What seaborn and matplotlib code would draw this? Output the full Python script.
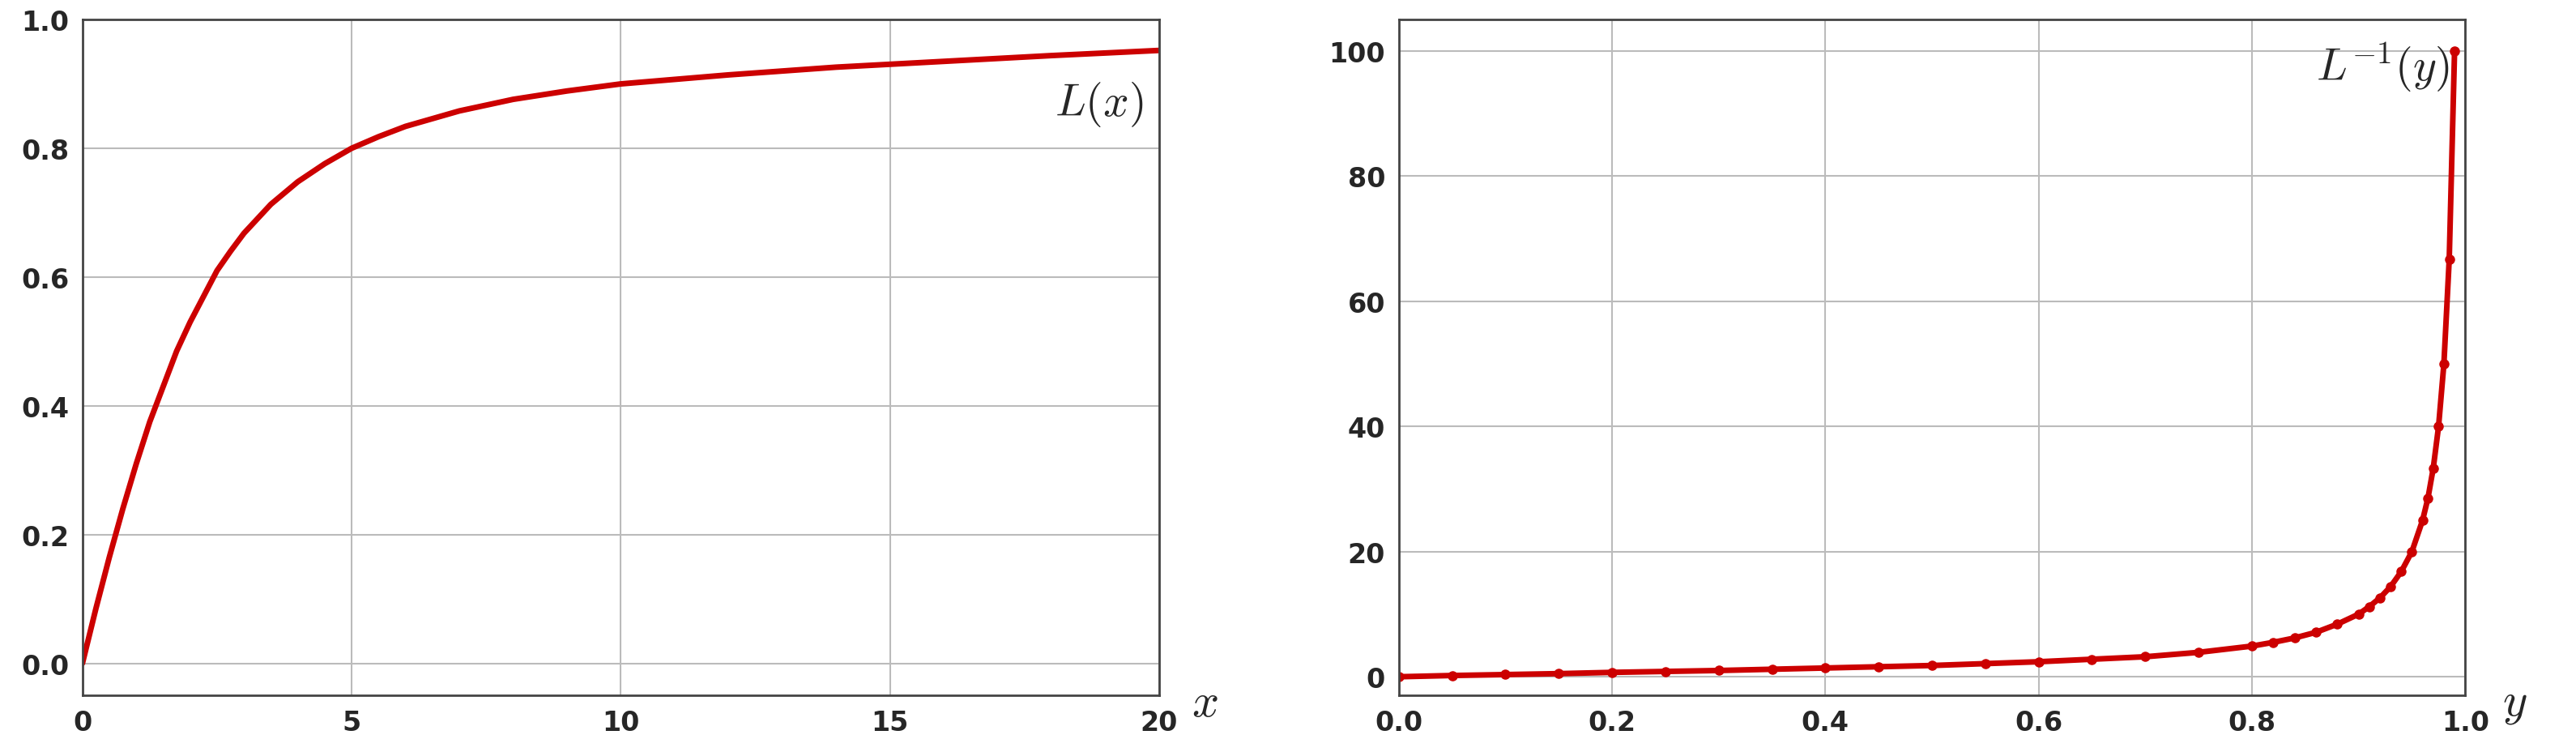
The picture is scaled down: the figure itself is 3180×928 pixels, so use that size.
import matplotlib
matplotlib.use("Agg")
import matplotlib.pyplot as plt
import seaborn as sns

sns.set_theme(style="whitegrid")
plt.rcParams['font.family'] = ['DejaVu Sans']
plt.rcParams['mathtext.fontset'] = 'cm'

# Left curve L(x)
lx = [0, 0.25, 0.5, 0.75, 1, 1.25, 1.5, 1.75, 2, 2.25, 2.5, 2.75, 3, 3.5, 4, 4.5, 5, 5.5, 6, 7, 8, 9, 10, 12, 14, 16, 18, 20]
ly = [0, 0.085, 0.165, 0.24, 0.31, 0.375, 0.43, 0.485, 0.53, 0.57, 0.61, 0.64, 0.668, 0.713, 0.748, 0.776, 0.80, 0.818, 0.834, 0.858, 0.876, 0.889, 0.90, 0.914, 0.926, 0.935, 0.944, 0.952]
# Right curve L^-1(y)
ry = [0.0, 0.05, 0.1, 0.15, 0.2, 0.25, 0.3, 0.35, 0.4, 0.45, 0.5, 0.55, 0.6, 0.65, 0.7, 0.75, 0.8, 0.82, 0.84, 0.86, 0.88, 0.9, 0.91, 0.92, 0.93, 0.94, 0.95, 0.96, 0.965, 0.97, 0.975, 0.98, 0.985, 0.99]
rx = [0.0, 0.2, 0.35, 0.5, 0.7, 0.85, 1.0, 1.2, 1.4, 1.6, 1.8, 2.1, 2.4, 2.8, 3.2, 3.9, 4.9, 5.5, 6.2, 7.1, 8.4, 10.0, 11.2, 12.6, 14.4, 16.8, 20.0, 25.0, 28.5, 33.3, 40.0, 50.0, 66.7, 100.0]

red = "#cc0000"
fig = plt.figure(figsize=(31.8, 9.29), dpi=100)
ax1 = fig.add_axes([0.032, 0.075, 0.418, 0.898])
ax2 = fig.add_axes([0.543, 0.075, 0.414, 0.898])

sns.lineplot(x=lx, y=ly, ax=ax1, color=red, linewidth=5)
sns.lineplot(x=ry, y=rx, ax=ax2, color=red, linewidth=5, marker="o", markersize=9, markeredgewidth=0, sort=False)

ax1.set_xlim(0, 20); ax1.set_ylim(-0.05, 1.0)
ax1.set_xticks([0, 5, 10, 15, 20]); ax1.set_yticks([0, 0.2, 0.4, 0.6, 0.8, 1.0])
ax1.set_yticklabels(["0.0", "0.2", "0.4", "0.6", "0.8", "1.0"])
ax2.set_xlim(0, 1.0); ax2.set_ylim(-3, 105)
ax2.set_xticks([0, 0.2, 0.4, 0.6, 0.8, 1.0]); ax2.set_yticks([0, 20, 40, 60, 80, 100])
ax2.set_xticklabels(["0.0", "0.2", "0.4", "0.6", "0.8", "1.0"])

for ax in (ax1, ax2):
    ax.set_facecolor("white")
    ax.grid(True, color="#bbbbbb", linewidth=1.5)
    for s in ax.spines.values():
        s.set_color("#444444"); s.set_linewidth(2)
    ax.tick_params(labelsize=24, length=0, pad=12)
    for lab in ax.get_xticklabels() + ax.get_yticklabels():
        lab.set_fontweight("bold")

ax1.text(0.985, 0.875, r"$L(x)$", transform=ax1.transAxes, ha="right", va="center", fontsize=40)
ax2.text(0.985, 0.93, r"$L^{-1}(y)$", transform=ax2.transAxes, ha="right", va="center", fontsize=40)
ax1.text(1.03, -0.01, r"$x$", transform=ax1.transAxes, ha="left", va="center", fontsize=42)
ax2.text(1.035, -0.01, r"$y$", transform=ax2.transAxes, ha="left", va="center", fontsize=42)

fig.savefig("out.png", dpi=100, facecolor="white")
